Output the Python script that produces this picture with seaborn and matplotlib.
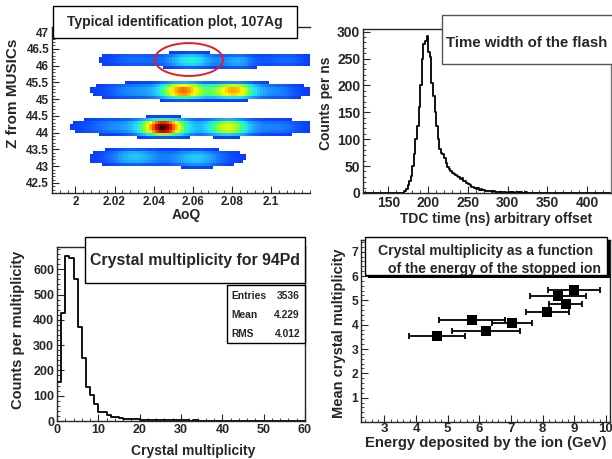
import numpy as np
import matplotlib
matplotlib.use("Agg")
import matplotlib.pyplot as plt
from matplotlib.colors import LinearSegmentedColormap
from matplotlib.patches import Rectangle, Ellipse
from matplotlib.ticker import MultipleLocator
import seaborn as sns

W, H = 612, 459

# --- top left: identification plot, read as clusters (AoQ, Z, width AoQ, width Z, height)
# rows are flat topped in Z, so the Z profile uses a 4th power
blob_aoq = [2.030, 2.059, 2.083, 2.108, 2.068,
            2.055, 2.081, 2.030, 2.104, 2.066,
            2.045, 2.078, 2.020, 2.104, 2.060,
            2.030, 2.062, 2.048]
blob_z = [46.18, 46.15, 46.12, 46.17, 46.15,
          45.24, 45.24, 45.24, 45.22, 45.22,
          44.17, 44.17, 44.20, 44.18, 44.18,
          43.28, 43.24, 43.26]
blob_saoq = [0.010, 0.008, 0.006, 0.007, 0.032,
             0.0085, 0.0085, 0.010, 0.007, 0.036,
             0.0085, 0.0085, 0.010, 0.008, 0.040,
             0.009, 0.009, 0.028]
blob_sz = [0.16, 0.17, 0.16, 0.15, 0.15,
           0.20, 0.19, 0.18, 0.17, 0.18,
           0.21, 0.20, 0.18, 0.17, 0.19,
           0.19, 0.20, 0.17]
blob_h = [0.10, 0.34, 0.20, 0.10, 0.06,
          0.74, 0.70, 0.16, 0.13, 0.06,
          0.92, 0.58, 0.15, 0.13, 0.06,
          0.25, 0.26, 0.06]

# --- top right: TDC time histogram, 2 ns bins starting at 166 ns
tdc_start = 166
tdc_counts = [0, 0, 3, 8, 15, 22, 32, 50, 72, 100,
              125, 160, 200, 250, 278, 283, 292, 262, 252, 205,
              180, 150, 125, 100, 82, 75, 72, 65, 55, 48,
              45, 40, 38, 36, 34, 32, 30, 26, 28, 22,
              22, 18, 16, 15, 12, 11, 10, 8, 9, 6,
              7, 5, 5, 4, 4, 3, 4, 2, 3, 2,
              2, 2, 1, 2, 1, 1, 0, 1, 1, 0,
              1, 0, 1, 1, 0, 1, 0, 0, 1, 0]

# --- bottom left: crystal multiplicity, 1 per bin from 0
mult_counts = [155, 426, 652, 645, 560, 373, 251, 135, 102, 69,
               36, 34, 22, 16, 14, 10, 8, 7, 9, 6,
               5, 5, 4, 5, 4, 3, 4, 3, 2, 3,
               2, 2, 1, 2, 1, 1, 1, 1, 0, 1,
               0, 0, 1, 0, 0, 0, 0, 0, 0, 0,
               0, 0, 0, 0, 0, 0, 0, 0, 0, 0]
stats_names = ["Entries", "Mean", "RMS"]
stats_values = ["3536", "4.229", "4.012"]

# --- bottom right: mean multiplicity vs deposited energy
energy = [4.65, 5.76, 6.21, 7.02, 8.15, 8.49, 8.73, 8.99]
energy_lo = [3.77, 4.73, 5.13, 6.39, 7.47, 7.60, 8.20, 8.16]
energy_hi = [5.55, 6.81, 7.28, 7.65, 8.83, 9.37, 9.26, 9.81]
mean_mult = [3.52, 4.20, 3.72, 4.07, 4.54, 5.16, 4.86, 5.43]

sns.set_style("ticks")
plt.rcParams["font.family"] = ["Liberation Sans", "DejaVu Sans"]
plt.rcParams["font.weight"] = "bold"
plt.rcParams["axes.labelweight"] = "bold"
plt.rcParams["axes.linewidth"] = 1.0
plt.rcParams["xtick.direction"] = "in"
plt.rcParams["ytick.direction"] = "in"
plt.rcParams["xtick.major.size"] = 5
plt.rcParams["ytick.major.size"] = 5
plt.rcParams["xtick.minor.size"] = 2.5
plt.rcParams["ytick.minor.size"] = 2.5
plt.rcParams["xtick.major.pad"] = 2
plt.rcParams["ytick.major.pad"] = 2

fig = plt.figure(figsize=(6.12, 4.59), dpi=100)


def px_axes(x0, y0, x1, y1):
    # pixel box (from top left) -> axes
    return fig.add_axes([x0 / W, 1 - y1 / H, (x1 - x0) / W, (y1 - y0) / H])


def px_box(x0, y0, x1, y1, ec="black", shadow=False):
    if shadow:
        fig.add_artist(Rectangle((x0 / W + 3 / W, 1 - y1 / H - 3 / H), (x1 - x0) / W, (y1 - y0) / H,
                                 transform=fig.transFigure, fc="black", ec="black", lw=0, zorder=5))
    fig.add_artist(Rectangle((x0 / W, 1 - y1 / H), (x1 - x0) / W, (y1 - y0) / H,
                             transform=fig.transFigure, fc="white", ec=ec, lw=1.0, zorder=6))


def px_text(x, y, s, size, ha="center"):
    fig.text(x / W, 1 - y / H, s, fontsize=size, fontweight="bold", ha=ha, va="center", zorder=7)


def style_axes(ax, xl, yl, tsize):
    ax.tick_params(which="both", top=False, right=False, labelsize=tsize)
    ax.set_xlabel(xl, fontsize=10)
    ax.set_ylabel(yl, fontsize=10.5)
    ax.xaxis.label.set_verticalalignment("center")
    ax.yaxis.label.set_verticalalignment("center")


# ---------------- top left
ax1 = px_axes(52, 27, 310, 193)
xe = np.arange(1.988, 2.1201, 0.0015)
ye = np.arange(42.2, 47.151, 0.09)
xc = 0.5 * (xe[1:] + xe[:-1])
yc = 0.5 * (ye[1:] + ye[:-1])
gx, gy = np.meshgrid(xc, yc, indexing="ij")
dens = np.zeros_like(gx)
for a, z, sa, sz, h in zip(blob_aoq, blob_z, blob_saoq, blob_sz, blob_h):
    dens += h * np.exp(-0.5 * ((gx - a) / sa) ** 2 - 0.5 * ((gy - z) / sz) ** 4)

root_cmap = LinearSegmentedColormap.from_list(
    "rootpal", ["#0a3cff", "#1470ff", "#20a8ff", "#20e0ff", "#30ff90",
                "#a0ff20", "#ffff00", "#ff9000", "#ff0000", "#200000"])
sns.histplot(x=gx.ravel(), y=gy.ravel(), weights=dens.ravel(), bins=[list(xe), list(ye)],
             cmap=root_cmap, thresh=0.03, vmin=0.03, vmax=1.0, ax=ax1)
ax1.add_patch(Ellipse((2.058, 46.18), 0.035, 0.98, fill=False, ec="#e02020", lw=1.4, zorder=4))
ax1.set_xlim(1.988, 2.12)
ax1.set_ylim(42.2, 47.15)
ax1.xaxis.set_minor_locator(MultipleLocator(0.004))
ax1.yaxis.set_minor_locator(MultipleLocator(0.1))
ax1.set_xticks([2.0, 2.02, 2.04, 2.06, 2.08, 2.1])
ax1.set_xticklabels(["2", "2.02", "2.04", "2.06", "2.08", "2.1"])
ax1.set_yticks(np.arange(42.5, 47.01, 0.5))
ax1.set_yticklabels(["42.5", "43", "43.5", "44", "44.5", "45", "45.5", "46", "46.5", "47"])
style_axes(ax1, "AoQ", "Z from MUSICs", 8.5)
ax1.yaxis.label.set_fontsize(11)
ax1.xaxis.set_label_coords(0.52, -0.13)
ax1.yaxis.set_label_coords(-0.151, 0.60)
ax1.spines["right"].set_visible(False)
px_box(53, 6, 297, 38)
px_text(175, 22, "Typical identification plot, 107Ag", 10)

# ---------------- top right
ax2 = px_axes(363, 29, 611, 193)
tdc_edges = tdc_start + 2 * np.arange(len(tdc_counts) + 1)
tdc_edges = np.concatenate([[118], tdc_edges, [432]])
tdc_vals = np.concatenate([[0], tdc_counts, [0]])
tdc_cent = 0.5 * (tdc_edges[1:] + tdc_edges[:-1])
sns.histplot(x=tdc_cent, weights=tdc_vals, bins=list(tdc_edges), element="step", fill=False,
             color="black", linewidth=1.3, ax=ax2)
ax2.set_xlim(118, 430)
ax2.set_ylim(0, 305)
ax2.xaxis.set_major_locator(MultipleLocator(50))
ax2.xaxis.set_minor_locator(MultipleLocator(10))
ax2.yaxis.set_major_locator(MultipleLocator(50))
ax2.yaxis.set_minor_locator(MultipleLocator(10))
style_axes(ax2, "TDC time (ns) arbitrary offset", "Counts per ns", 10)
ax2.yaxis.label.set_fontsize(10)
ax2.xaxis.set_label_coords(0.538, -0.16)
ax2.yaxis.set_label_coords(-0.149, 0.546)
ax2.spines["right"].set_color("#777777")
px_box(442, 15, 616, 64, ec="#555555")
px_text(527, 43, "Time width of the flash", 10.8)

# ---------------- bottom left
ax3 = px_axes(57, 247, 305, 421)
m_edges = np.arange(len(mult_counts) + 1)
m_cent = m_edges[:-1] + 0.5
sns.histplot(x=m_cent, weights=mult_counts, bins=list(m_edges), element="step", fill=False,
             color="black", linewidth=1.3, ax=ax3)
ax3.set_xlim(0, 60)
ax3.set_ylim(0, 688)
ax3.xaxis.set_major_locator(MultipleLocator(10))
ax3.xaxis.set_minor_locator(MultipleLocator(2))
ax3.yaxis.set_major_locator(MultipleLocator(100))
ax3.yaxis.set_minor_locator(MultipleLocator(20))
style_axes(ax3, "Crystal multiplicity", "Counts per multiplicity", 9)
ax3.xaxis.set_label_coords(0.55, -0.175)
ax3.yaxis.set_label_coords(-0.157, 0.523)
px_box(85, 237, 305, 283)
px_text(195, 261, "Crystal multiplicity for 94Pd", 11.4)
px_box(227, 285, 305, 343)
for i, (nm, vl) in enumerate(zip(stats_names, stats_values)):
    px_text(231, 296 + 19 * i, nm, 7.4, ha="left")
    px_text(300, 296 + 19 * i, vl, 7.4, ha="right")

# ---------------- bottom right
ax4 = px_axes(361, 240, 610, 422)
e_arr = np.array(energy)
xerr = np.array([e_arr - np.array(energy_lo), np.array(energy_hi) - e_arr])
ax4.errorbar(energy, mean_mult, xerr=xerr, fmt="none", ecolor="black", elinewidth=1.3,
             capsize=2, capthick=1.3)
sns.scatterplot(x=energy, y=mean_mult, marker="s", s=42, color="black", edgecolor="black",
                linewidth=0, zorder=3, ax=ax4)
ax4.set_xlim(2.26, 10.13)
ax4.set_ylim(0, 7.48)
ax4.xaxis.set_minor_locator(MultipleLocator(0.2))
ax4.yaxis.set_minor_locator(MultipleLocator(0.2))
ax4.set_xticks(range(3, 11))
ax4.set_yticks(range(1, 8))
style_axes(ax4, "Energy deposited by the ion (GeV)", "Mean crystal multiplicity", 9.5)
ax4.tick_params(axis="x", pad=1)
ax4.tick_params(axis="y", labelsize=8.7)
ax4.xaxis.label.set_fontsize(10.6)
ax4.xaxis.set_label_coords(0.50, -0.118)
ax4.yaxis.set_label_coords(-0.088, 0.49)
px_box(365, 237, 607, 275, shadow=True)
px_text(486, 251, "Crystal multiplicity as a function", 10.1)
px_text(494, 269, "of the energy of the stopped ion", 10.1)

fig.savefig("out.png", dpi=100)
